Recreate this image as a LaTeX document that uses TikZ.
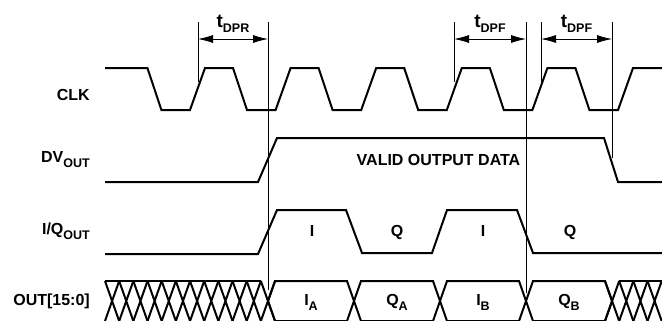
\documentclass[tikz,border=0pt]{standalone}
\usepackage{fontspec}
\setmainfont{Liberation Sans}
\usetikzlibrary{calc,arrows.meta}
\newcommand{\lowsub}[1]{\raisebox{-5bp}{\fontsize{12.5bp}{12.5bp}\selectfont #1}}

\begin{document}
\begin{tikzpicture}[x=1bp,y=-1bp,
	sig/.style={line width=2bp},
	timeline/.style={line width=0.8bp},
	signame/.style={anchor=base east, inner sep=0pt},
	txt/.style={anchor=base, inner sep=0pt},
	font=\fontsize{16bp}{18bp}\selectfont\bfseries]
	\useasboundingbox (0,0) rectangle (662,320);
	\clip (0,0) rectangle (662,320);



	% signal names
	\node[signame] (clk) at (90,100) {CLK};
	\node[signame] (dv) at (90,162) {DV\lowsub{OUT}};
	\node[signame] (iq) at (90,234) {I/Q\lowsub{OUT}};
	\node[signame] (out) at (90,305) {OUT[15:0]};



	% clock
	\draw [sig] (105,68) -- (147.4,68) -- (161.4,110) -- (190,110)
		foreach \k in {0,...,4} { -- ++(15,-42) -- ++(28,0) -- ++(14,42) -- ++(28.6,0) }
		-- ++(15,-42) -- (662,68);



	% data valid
	\draw [sig] (105,182) -- (258,182) -- (277,138) -- (604,138) -- (618,182) -- (662,182);
	\node[txt] (valid) at (438.5,165) {VALID OUTPUT DATA};



	% I/Q select
	\draw [sig] (105,254) -- (258,254) -- (277,210) -- (346,210) -- (362,253) -- (432,253)
		-- (447,210) -- (517,210) -- (533,253) -- (662,253);
	\node[txt] (iq_1) at (312,236) {I};
	\node[txt] (iq_2) at (397,236) {Q};
	\node[txt] (iq_3) at (483,236) {I};
	\node[txt] (iq_4) at (570,236) {Q};



	% data bus
	\def\pitch{14.17}
	\foreach \i in {0,...,11}
		\draw [sig] (105+\i*\pitch,281) -- (105+\i*\pitch+\pitch,321)
			(105+\i*\pitch,321) -- (105+\i*\pitch+\pitch,281);
	\draw [sig] (105,281) -- (105+11*\pitch,281);

	\foreach \a/\b in {268/354,354/440,440/526,526/612}
		\draw [sig] (\a,301) -- (\a+7,281) -- (\b-7,281) -- (\b,301) -- (\b-7,321) -- (\a+7,321) -- cycle;

	\foreach \i in {0,...,4}
		\draw [sig] (605+\i*\pitch,281) -- (605+\i*\pitch+\pitch,321)
			(605+\i*\pitch,321) -- (605+\i*\pitch+\pitch,281);
	\draw [sig] (605+\pitch,281) -- (662,281);

	\node[txt] (ia) at (311,305) {I\lowsub{A}};
	\node[txt] (qa) at (397,305) {Q\lowsub{A}};
	\node[txt] (ib) at (483,305) {I\lowsub{B}};
	\node[txt] (qb) at (569,305) {Q\lowsub{B}};



	% timing references
	\coordinate (dpr_1) at (198,22);
	\coordinate (dpr_2) at (268,22);
	\coordinate (dpf_1) at (454,22);
	\coordinate (dpf_2) at (526,22);
	\coordinate (dpf_3) at (541,22);
	\coordinate (dpf_4) at (612,22);

	\draw [timeline] (dpr_1) -- ++(0,60);
	\draw [timeline] (dpr_2) -- ++(0,268);
	\draw [timeline] (dpf_1) -- ++(0,60);
	\draw [timeline] (dpf_2) -- ++(0,271);
	\draw [timeline] (dpf_3) -- ++(0,60);
	\draw [timeline] (dpf_4) -- ++(0,136);

	\draw [<->, >={Latex[length=15bp,width=8bp]}, timeline] ([yshift=-17bp]dpr_1) -- ([yshift=-17bp]dpr_2)
		node[midway, txt, yshift=12bp] (t_dpr) {{\fontsize{19bp}{19bp}\selectfont t}\lowsub{DPR}};
	\draw [<->, >={Latex[length=15bp,width=8bp]}, timeline] ([yshift=-17bp]dpf_1) -- ([yshift=-17bp]dpf_2)
		node[midway, txt, yshift=12bp] (t_dpf_1) {{\fontsize{19bp}{19bp}\selectfont t}\lowsub{DPF}};
	\draw [<->, >={Latex[length=15bp,width=8bp]}, timeline] ([yshift=-17bp]dpf_3) -- ([yshift=-17bp]dpf_4)
		node[midway, txt, yshift=12bp] (t_dpf_2) {{\fontsize{19bp}{19bp}\selectfont t}\lowsub{DPF}};

\end{tikzpicture}
\end{document}
